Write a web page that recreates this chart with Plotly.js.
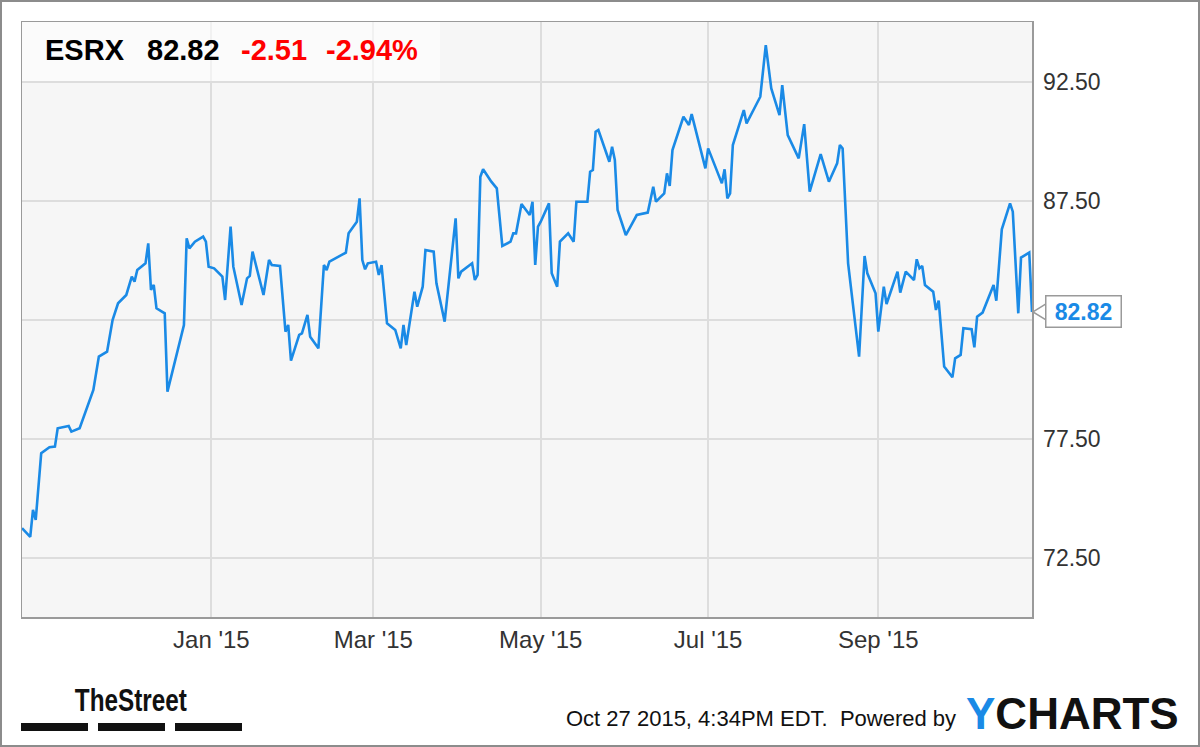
<!DOCTYPE html>
<html><head><meta charset="utf-8">
<script src="https://cdn.plot.ly/plotly-3.0.1.min.js"></script>
<style>
html,body{margin:0;padding:0;background:#fff;}
#wrap{position:relative;width:1200px;height:747px;overflow:hidden;}
#chart{width:1200px;height:747px;}
#frame{position:absolute;left:0;top:0;width:1200px;height:747px;box-sizing:border-box;border:2px solid #8c8c8c;pointer-events:none;}
</style></head><body>
<div id="wrap"><div id="chart"></div><div id="frame"></div></div>
<script>
// ---- data ----
const dates = [
'2014-10-24','2014-10-27','2014-10-28','2014-10-29','2014-10-31','2014-11-03','2014-11-05','2014-11-06','2014-11-10','2014-11-11',
'2014-11-14','2014-11-18','2014-11-19','2014-11-21','2014-11-24','2014-11-26','2014-11-28','2014-12-01','2014-12-03','2014-12-04',
'2014-12-05','2014-12-08','2014-12-09','2014-12-10','2014-12-11','2014-12-12','2014-12-15','2014-12-16','2014-12-22','2014-12-23',
'2014-12-24','2014-12-26','2014-12-29','2014-12-30','2014-12-31','2015-01-02','2015-01-05','2015-01-06','2015-01-08','2015-01-09',
'2015-01-12','2015-01-14','2015-01-15','2015-01-16','2015-01-18','2015-01-20','2015-01-22','2015-01-23','2015-01-26','2015-01-27',
'2015-01-28','2015-01-29','2015-01-30','2015-02-02','2015-02-03','2015-02-05','2015-02-06','2015-02-09','2015-02-11','2015-02-12',
'2015-02-13','2015-02-17','2015-02-19','2015-02-20','2015-02-23','2015-02-24','2015-02-25','2015-02-26','2015-02-27','2015-03-02',
'2015-03-03','2015-03-04','2015-03-06','2015-03-09','2015-03-11','2015-03-12','2015-03-13','2015-03-16','2015-03-17','2015-03-19',
'2015-03-20','2015-03-23','2015-03-24','2015-03-27','2015-03-31','2015-04-01','2015-04-02','2015-04-06','2015-04-07','2015-04-08',
'2015-04-09','2015-04-10','2015-04-13','2015-04-15','2015-04-17','2015-04-20','2015-04-21','2015-04-22','2015-04-24','2015-04-27',
'2015-04-28','2015-04-29','2015-04-30','2015-05-01','2015-05-04','2015-05-05','2015-05-07','2015-05-08','2015-05-11','2015-05-13',
'2015-05-14','2015-05-18','2015-05-19','2015-05-20','2015-05-21','2015-05-22','2015-05-26','2015-05-27','2015-05-28','2015-05-29',
'2015-06-01','2015-06-03','2015-06-05','2015-06-09','2015-06-11','2015-06-12','2015-06-15','2015-06-16','2015-06-17','2015-06-18',
'2015-06-22','2015-06-24','2015-06-25','2015-06-30','2015-07-01','2015-07-06','2015-07-07','2015-07-08','2015-07-09','2015-07-10',
'2015-07-14','2015-07-15','2015-07-20','2015-07-22','2015-07-24','2015-07-27','2015-07-28','2015-07-30','2015-08-03','2015-08-05',
'2015-08-07','2015-08-11','2015-08-14','2015-08-17','2015-08-18','2015-08-19','2015-08-21','2015-08-25','2015-08-27','2015-08-28',
'2015-08-31','2015-09-01','2015-09-03','2015-09-04','2015-09-08','2015-09-09','2015-09-11','2015-09-14','2015-09-15','2015-09-16',
'2015-09-17','2015-09-18','2015-09-21','2015-09-22','2015-09-23','2015-09-25','2015-09-28','2015-09-29','2015-10-01','2015-10-02',
'2015-10-05','2015-10-06','2015-10-07','2015-10-09','2015-10-13','2015-10-14','2015-10-16','2015-10-19','2015-10-20','2015-10-22',
'2015-10-23','2015-10-26','2015-10-27'];
const prices = [
73.73,73.37,74.50,74.08,76.88,77.13,77.16,77.93,78.03,77.79,
77.93,79.19,79.54,80.94,81.15,82.48,83.18,83.53,84.30,84.09,
84.58,84.86,85.70,83.74,83.95,82.97,82.76,79.47,82.27,85.91,
85.49,85.77,85.98,85.77,84.72,84.65,84.30,83.32,86.40,84.72,
83.11,84.23,84.33,85.35,84.44,83.53,85.00,84.79,84.75,83.46,
81.99,82.27,80.77,81.85,81.92,82.69,81.78,81.29,84.79,84.58,
84.93,85.18,85.31,86.12,86.61,87.59,85.00,84.61,84.86,84.93,
84.37,84.79,82.34,82.06,81.29,82.27,81.43,83.67,83.04,83.88,
85.42,85.35,84.02,82.41,86.75,84.23,84.51,84.86,84.16,84.37,
88.50,88.81,88.29,88.01,85.59,85.77,86.12,86.12,87.35,86.89,
87.45,84.79,86.40,86.61,87.38,84.44,83.88,85.77,86.12,85.77,
87.45,87.45,88.71,88.78,90.39,90.46,89.13,89.76,89.20,87.10,
86.05,86.47,86.89,86.99,88.08,87.45,87.80,88.64,88.11,89.62,
91.02,90.67,91.13,88.85,89.69,88.22,88.81,87.59,87.80,89.83,
91.30,90.74,91.86,94.03,92.21,91.09,92.35,90.25,89.27,90.71,
87.87,89.45,88.29,89.06,89.83,89.69,84.86,80.94,85.17,84.44,
83.60,81.99,83.88,83.15,84.51,83.63,84.51,84.16,85.03,84.65,
84.75,83.95,83.67,82.90,83.29,80.52,80.07,80.87,81.01,82.13,
82.09,81.33,82.62,82.79,83.95,83.29,86.29,87.38,87.03,82.76,
85.10,85.31,82.82];
const yTickVals = [72.5, 77.5, 82.5, 87.5, 92.5];
const yTickText = ['72.50', '77.50', '82.50', '87.50', '92.50'];
const xTickVals = ['2015-01-01', '2015-03-01', '2015-05-01', '2015-07-01', '2015-09-01'];
const xTickText = ["Jan '15", "Mar '15", "May '15", "Jul '15", "Sep '15"];
const ticker = 'ESRX';
const lastPrice = '82.82';
const change = '-2.51';
const changePct = '-2.94%';
const stamp = 'Oct 27 2015, 4:34PM EDT.  Powered by';
const brandLeft = 'TheStreet';

// ---- layout helpers (pixel -> paper) ----
const L = 22, R = 1032, T = 22, B = 617;
const px = x => (x - L) / (R - L);
const py = y => (B - y) / (B - T);
const FONT = '"Liberation Sans", Arial, sans-serif';
const BLUE = '#1a8ae6';

const lastIdx = prices.length - 1;
const lastVal = prices[lastIdx];
// the last-value callout covers the tick label it sits on
const shownYTickText = yTickText.map((t, i) => Math.abs(yTickVals[i] - lastVal) < 0.8 ? '' : t);

const trace = {
  x: dates, y: prices, type: 'scatter', mode: 'lines',
  line: {color: BLUE, width: 2.6}, hoverinfo: 'skip'
};

const ann = [];
function txt(text, x, y, size, color, anchor, bold, family) {
  ann.push({xref: 'paper', yref: 'paper', x: px(x), y: py(y), text: bold ? '<b>' + text + '</b>' : text,
    showarrow: false, xanchor: anchor, yanchor: 'middle',
    font: {family: family || FONT, size: size, color: color}});
}
txt(ticker, 43, 50, 29, '#000', 'left', true);
txt(lastPrice, 145, 50, 29, '#000', 'left', true);
txt(change, 239, 50, 29, '#ff0000', 'left', true);
txt(changePct, 324, 50, 29, '#ff0000', 'left', true);
txt(brandLeft, 55, 700, 32, '#111', 'left', true);
txt(stamp, 958, 718, 22, '#111', 'right', false);
txt('<span style="color:' + BLUE + '">Y</span>CHARTS', 964, 713, 44, '#111', 'left', true);

// last value callout
ann.push({xref: 'paper', yref: 'y', x: 1, y: lastVal, xshift: 13, text: '<b>' + lastPrice + '</b>',
  showarrow: false, xanchor: 'left', yanchor: 'middle', bgcolor: '#fff', bordercolor: '#9a9a9a',
  borderwidth: 1.5, borderpad: 3, width: 68, height: 24,
  font: {family: FONT, size: 23, color: BLUE}});

const yPerPx = 25 / (B - T);
const shapes = [
  {type: 'rect', xref: 'paper', yref: 'paper', x0: 0, x1: px(440), y0: py(81), y1: 1,
   fillcolor: 'rgba(255,255,255,0.6)', line: {width: 0}, layer: 'above'},
  {type: 'path', xref: 'paper', yref: 'y', layer: 'above',
   path: 'M ' + px(R + 1) + ' ' + lastVal + ' L ' + px(R + 14) + ' ' + (lastVal + 8 * yPerPx) +
         ' L ' + px(R + 14) + ' ' + (lastVal - 8 * yPerPx) + ' Z',
   fillcolor: '#fff', line: {color: '#9a9a9a', width: 1.5}},
  {type: 'rect', xref: 'paper', yref: 'paper', x0: px(21), x1: px(88), y0: py(731), y1: py(723), fillcolor: '#111', line: {width: 0}},
  {type: 'rect', xref: 'paper', yref: 'paper', x0: px(98), x1: px(165), y0: py(731), y1: py(723), fillcolor: '#111', line: {width: 0}},
  {type: 'rect', xref: 'paper', yref: 'paper', x0: px(175), x1: px(242), y0: py(731), y1: py(723), fillcolor: '#111', line: {width: 0}}
];

const layout = {
  width: 1200, height: 747,
  margin: {l: L, r: 1200 - R, t: T, b: 747 - B, pad: 0},
  paper_bgcolor: '#fff', plot_bgcolor: '#f6f6f6',
  showlegend: false, hovermode: false,
  font: {family: FONT, color: '#333'},
  xaxis: {type: 'date', range: [dates[0], dates[lastIdx]], tickmode: 'array', tickvals: xTickVals, ticktext: xTickText,
    showgrid: true, gridcolor: '#dddddd', gridwidth: 2, zeroline: false, ticks: '',
    showline: true, linecolor: '#9a9a9a', linewidth: 1.5, mirror: true,
    tickfont: {family: FONT, size: 24, color: '#333'}, ticklabelstandoff: 1, fixedrange: true},
  yaxis: {side: 'right', range: [70, 95], tickmode: 'array', tickvals: yTickVals, ticktext: shownYTickText,
    showgrid: true, gridcolor: '#dddddd', gridwidth: 2, zeroline: false, ticks: '',
    showline: true, linecolor: '#9a9a9a', linewidth: 1.5, mirror: true,
    tickfont: {family: FONT, size: 23, color: '#333'}, ticklabelstandoff: 5, fixedrange: true},
  annotations: ann, shapes: shapes
};

Plotly.newPlot('chart', [trace], layout, {displayModeBar: false, staticPlot: true}).then(gd => {
  // condense the TheStreet wordmark to its narrow width
  gd.querySelectorAll('.annotation-text').forEach(t => {
    if (t.textContent === brandLeft) {
      t.setAttribute('textLength', '112');
      t.setAttribute('lengthAdjust', 'spacingAndGlyphs');
    }
  });
});
</script>
</body></html>
